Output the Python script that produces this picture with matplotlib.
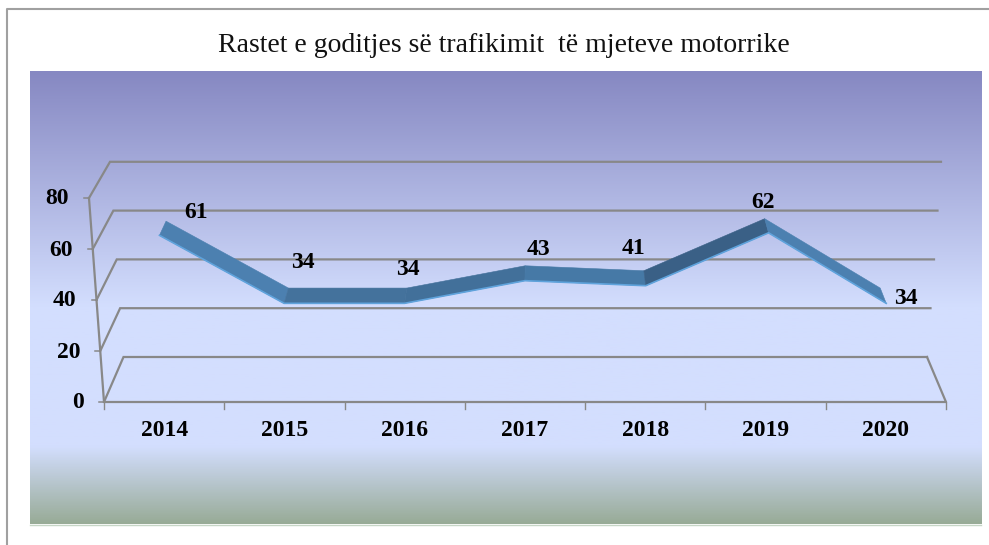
import numpy as np
import matplotlib.pyplot as plt
from matplotlib.colors import LinearSegmentedColormap
from matplotlib.patches import Polygon

years = ['2014', '2015', '2016', '2017', '2018', '2019', '2020']
values = [61, 34, 34, 43, 41, 62, 34]
yticks = [0, 20, 40, 60, 80]
title = 'Rastet e goditjes së trafikimit  të mjeteve motorrike'

# label offsets from the back of the ribbon, in pixels
label_dx = [30, 14, 1, 13, -10, -2, 26]
label_dy = [-9, -26, -19, -16, -22, -16, 10]
seg_colors = ['#4c80b0', '#44729c', '#42709a', '#4679a6', '#3a6086', '#4c80b0']
grad_pos = [0.0, 0.52, 0.83, 1.0]
grad_col = ['#8688c2', '#d3defe', '#d3defe', '#98ab97']


def project(cat, val, depth):
    # fake 3d of the old office chart: cat in slots, val in units, depth 0-1
    left = 104 + 19.5 * depth - (15 - 1.5 * depth) * val / 80
    right = 946 - 19 * depth + 14 * val / 80
    x = left + (right - left) * cat / 7
    y = 402 - 45 * depth - (2.55 - 0.11 * depth) * val
    return x, y


fig = plt.figure(figsize=(9.89, 5.45), dpi=100)
ax = fig.add_axes([0, 0, 1, 1])
ax.set_xlim(0, 989)
ax.set_ylim(545, 0)
ax.axis('off')

# outer frame
ax.plot([7, 7, 989], [545, 9, 9], color='#a0a0a0', lw=1.5)

cmap = LinearSegmentedColormap.from_list('bg', list(zip(grad_pos, grad_col)))
ax.imshow(np.linspace(0, 1, 256).reshape(-1, 1), cmap=cmap, aspect='auto',
          extent=[29.5, 981, 524, 71], zorder=1)
ax.plot([29.5, 981], [524.5, 524.5], color='#c6d6c6', lw=1.0, zorder=1)
ax.set_xlim(0, 989)
ax.set_ylim(545, 0)

grey = '#888888'
for v in yticks:
    xs, ys = zip(project(0, v, 0), project(0, v, 1), project(7, v, 1))
    ax.plot(xs, ys, color=grey, lw=1.6, zorder=2, solid_joinstyle='miter')
    x0, y0 = project(0, v, 0)
    ax.plot([x0 - 5, x0], [y0, y0], color=grey, lw=1.1, zorder=2)
    ax.text(x0 - 20, y0 + 1, str(v), ha='right', va='center', family='Liberation Serif',
            weight='bold', fontsize=17, color='black', zorder=5)

# front edges
xs, ys = zip(project(0, 80, 0), project(0, 0, 0), project(7, 0, 0), project(7, 0, 1))
ax.plot(xs, ys, color=grey, lw=1.6, zorder=2)
for i in range(8):
    x0, y0 = project(i, 0, 0)
    ax.plot([x0, x0], [y0, y0 + 7], color=grey, lw=1.0, zorder=2)

for i, yr in enumerate(years):
    x0, y0 = project(i + 0.5, 0, 0)
    ax.text(x0, y0 + 28, yr, ha='center', va='center', family='Liberation Serif',
            weight='bold', fontsize=17, color='black', zorder=5)

# ribbon
for i in range(len(values) - 1):
    p = [project(i + 0.5, values[i], 0.29), project(i + 1.5, values[i + 1], 0.29),
         project(i + 1.5, values[i + 1], 0.66), project(i + 0.5, values[i], 0.66)]
    ax.add_patch(Polygon(p, closed=True, fc=seg_colors[i], ec=seg_colors[i], lw=0.4, zorder=3))
front = [project(i + 0.5, v, 0.29) for i, v in enumerate(values)]
ax.plot(*zip(*front), color='#5fa3dc', lw=1.2, zorder=4)

for i, v in enumerate(values):
    x0, y0 = project(i + 0.5, v, 0.66)
    ax.text(x0 + label_dx[i], y0 + label_dy[i], str(v), ha='center', va='center',
            family='Liberation Serif', weight='bold', fontsize=17, color='black', zorder=5)

ax.text(504, 46, title, ha='center', va='center', family='Liberation Serif',
        fontsize=20, color='#111111')

fig.savefig('out.png', dpi=100)
